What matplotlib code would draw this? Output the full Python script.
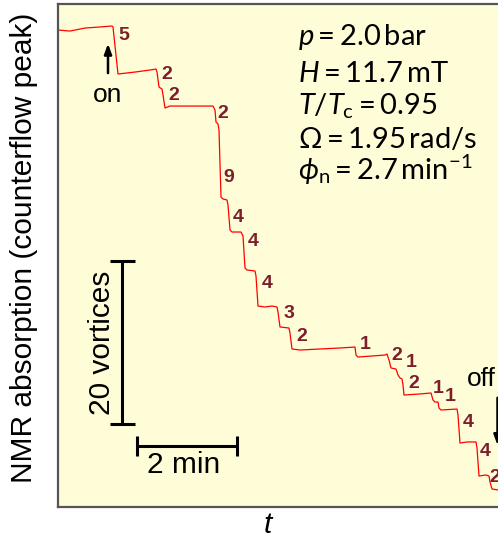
import matplotlib
matplotlib.use("Agg")
import matplotlib.pyplot as plt

# NMR absorption trace, time in minutes, absorption in vortex units
t_min = [0.00, 0.24, 0.54, 0.84, 1.08, 1.10, 1.20, 1.54, 1.84, 1.96,
         1.98, 2.02, 2.08, 2.10, 2.14, 2.24, 2.64, 3.10,
         3.14, 3.16, 3.20, 3.22, 3.26, 3.30, 3.38,
         3.40, 3.44, 3.48, 3.66, 3.70, 3.74, 3.78, 3.94,
         3.96, 4.00, 4.14, 4.28, 4.38, 4.40, 4.44, 4.62,
         4.64, 4.68, 4.84, 5.24, 5.64, 5.94, 5.96, 6.00, 6.54, 6.58,
         6.62, 6.66, 6.76, 6.80, 6.84, 6.88, 6.90, 6.92, 7.24, 7.46,
         7.50, 7.54, 7.60, 7.62, 7.66, 7.98, 8.00, 8.04, 8.18, 8.36,
         8.38, 8.42, 8.56, 8.62, 8.64, 8.68, 8.80, 9.24]
absorption = [58.53, 58.40, 58.77, 58.90, 59.02, 58.90, 53.13, 53.37, 53.62, 53.74,
              53.37, 51.53, 51.29, 50.55, 48.96, 49.20, 49.20, 49.20,
              48.71, 47.24, 47.00, 46.26, 38.04, 37.79, 37.67,
              37.06, 33.99, 33.74, 33.74, 33.25, 29.33, 29.08, 28.96,
              28.34, 24.66, 24.54, 24.66, 24.54, 23.93, 22.09, 21.96,
              21.35, 19.39, 19.26, 19.39, 19.51, 19.63, 18.65, 18.40, 18.65, 18.77,
              18.04, 17.06, 16.93, 16.20, 15.83, 15.71, 14.97, 13.74, 13.87, 13.99,
              13.13, 12.88, 12.88, 12.15, 11.90, 12.02, 11.29, 7.85, 7.98, 7.98,
              7.24, 3.80, 3.93, 3.80, 3.07, 2.21, 2.09, 2.09]

# number of vortices leaving in each step, and where each count is written
step_counts = [5, 2, 2, 2, 9, 4, 4, 4, 3, 2, 1, 2, 1, 2, 1, 1, 4, 4, 2]
label_t = [1.32, 2.18, 2.32, 3.30, 3.42, 3.60, 3.90, 4.18, 4.62, 4.88,
           6.14, 6.78, 7.06, 7.12, 7.60, 7.84, 8.20, 8.54, 8.74]
label_a = [57.91, 53.13, 50.55, 48.34, 40.37, 35.58, 32.52, 27.48, 23.80, 20.86,
           19.88, 18.53, 17.67, 15.21, 14.60, 13.50, 10.31, 6.75, 3.56]

params = [r"$p = 2.0\,\mathrm{bar}$",
          r"$H = 11.7\,\mathrm{mT}$",
          r"$T/T_\mathrm{c} = 0.95$",
          r"$\Omega = 1.95\,\mathrm{rad/s}$",
          r"$\phi_\mathrm{n} = 2.7\,\mathrm{min}^{-1}$"]
param_a = [56.69, 52.15, 48.10, 44.05, 40.12]

plt.rcParams["mathtext.fontset"] = "custom"
plt.rcParams["mathtext.rm"] = "Lato"
plt.rcParams["mathtext.it"] = "Lato:italic"
plt.rcParams["mathtext.bf"] = "Lato:bold"

W, H = 498, 538
fig = plt.figure(figsize=(W / 100, H / 100), dpi=100)
ax = fig.add_axes([58 / W, 31 / H, (520 - 58) / W, (507 - 4) / H])
ax.set_facecolor("#FFFDD8")
ax.set_xlim(0, 9.24)
ax.set_ylim(0, 61.72)
ax.set_xticks([])
ax.set_yticks([])
for s in ax.spines.values():
    s.set_color("#555555")
    s.set_linewidth(1.6)

ax.plot(t_min, absorption, color="#FF0000", lw=0.9)

for n, tx, ay in zip(step_counts, label_t, label_a):
    ax.text(tx, ay, str(n), color="#7B1F2B", fontsize=14, fontweight="bold",
            family="Liberation Sans", ha="center", va="center")

# field on / off markers
ax.annotate("", xy=(1.0, 57.2), xytext=(1.0, 52.9),
            arrowprops=dict(arrowstyle="-|>,head_length=0.6,head_width=0.22",
                            color="black", lw=1.8))
ax.text(1.0, 50.55, "on", fontsize=19, family="Liberation Sans",
        ha="center", va="center")
ax.text(8.18, 14.9, "off", fontsize=19, family="Liberation Sans",
        ha="left", va="baseline")
ax.annotate("", xy=(8.79, 7.24), xytext=(8.79, 13.74),
            arrowprops=dict(arrowstyle="-|>,head_length=0.6,head_width=0.22",
                            color="black", lw=1.8))

# scale bars: 20 vortices and 2 min
ax.errorbar([1.28], [20.18], yerr=[[10.0], [10.0]], fmt="none", ecolor="black",
            elinewidth=2.2, capsize=9, capthick=2.2)
ax.errorbar([2.58], [7.48], xerr=[[1.0], [1.0]], fmt="none", ecolor="black",
            elinewidth=2.2, capsize=7.5, capthick=2.2)
ax.text(0.88, 20.18, "20 vortices", rotation=90, fontsize=21.5,
        family="Liberation Sans", ha="center", va="center")
ax.text(2.52, 5.15, "2 min", fontsize=21.5, family="Liberation Sans",
        ha="center", va="center")

for s, ay in zip(params, param_a):
    ax.text(4.8, ay, s, fontsize=21, ha="left", va="baseline")

fig.text(24 / W, (H - 248) / H, "NMR absorption (counterflow peak)", rotation=90,
         fontsize=21.5, family="Liberation Sans", ha="center", va="center")
fig.text(268 / W, (H - 525) / H, "t", fontsize=21.5, family="Liberation Sans",
         style="italic", ha="center", va="center")

fig.savefig("out.png", dpi=100)
